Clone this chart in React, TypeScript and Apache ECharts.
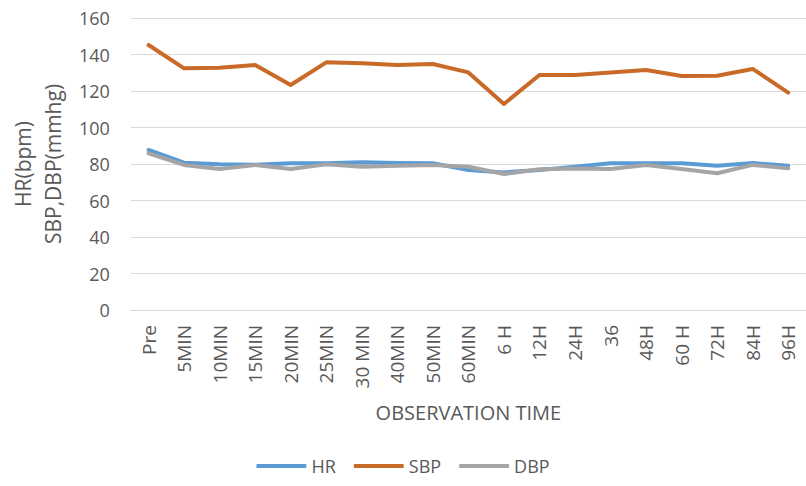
import React, { useEffect, useRef } from "react";
import * as echarts from "echarts";

const categories = ["Pre", "5MIN", "10MIN", "15MIN", "20MIN", "25MIN", "30 MIN", "40MIN", "50MIN", "60MIN", "6 H", "12H", "24H", "36", "48H", "60 H", "72H", "84H", "96H"];
const hrValues = [87.7, 80.7, 79.8, 79.6, 80.4, 80.4, 80.9, 80.5, 80.4, 76.7, 75.4, 76.7, 78.5, 80.4, 80.4, 80.4, 79.0, 80.5, 79.0];
const sbpValues = [145.2, 132.4, 132.8, 134.2, 123.3, 135.7, 135.2, 134.2, 134.8, 130.2, 112.9, 128.8, 128.8, 130.2, 131.5, 128.2, 128.4, 132.1, 119.1];
const dbpValues = [85.8, 79.5, 77.3, 79.5, 77.3, 79.8, 78.5, 79.0, 79.5, 78.5, 74.5, 77.1, 77.6, 77.3, 79.5, 77.3, 74.9, 79.5, 77.6];
const yTicks = { min: 0, max: 160, interval: 20 };

const FONT = "'Open Sans', 'Noto Sans', sans-serif";
const TXT = "#595959";

export default function App() {
  const ref = useRef<HTMLDivElement>(null);
  useEffect(() => {
    if (!ref.current) return;
    const chart = echarts.init(ref.current, undefined, { renderer: "svg" });
    const mk = (name: string, data: number[], color: string, z: number) => ({
      name,
      type: "line",
      data,
      z,
      symbol: "none",
      lineStyle: { color, width: 4, cap: "round", join: "round" },
      itemStyle: { color },
    });
    chart.setOption({
      animation: false,
      textStyle: { fontFamily: FONT },
      grid: { left: 124, top: 18, width: 687, bottom: 176, containLabel: false },
      legend: {
        bottom: 6,
        left: "center",
        itemWidth: 50,
        itemHeight: 4,
        itemGap: 18,
        icon: "roundRect",
        textStyle: { color: TXT, fontSize: 18, fontFamily: FONT },
        data: ["HR", "SBP", "DBP"],
      },
      xAxis: {
        type: "category",
        data: categories,
        boundaryGap: true,
        axisLine: { show: true, lineStyle: { color: "#d9d9d9", width: 1 } },
        axisTick: { show: false },
        axisLabel: { rotate: 90, color: TXT, fontSize: 19, margin: 15, interval: 0 },
        name: "OBSERVATION TIME",
        nameLocation: "middle",
        nameGap: 92,
        nameTextStyle: { color: TXT, fontSize: 20 },
      },
      yAxis: {
        type: "value",
        min: yTicks.min,
        max: yTicks.max,
        interval: yTicks.interval,
        axisLine: { show: false },
        axisTick: { show: false },
        splitLine: { lineStyle: { color: "#d9d9d9", width: 1 } },
        axisLabel: { color: TXT, fontSize: 18, margin: 21 },
        name: "HR(bpm)\nSBP,DBP(mmhg)",
        nameLocation: "middle",
        nameRotate: 90,
        nameGap: 62,
        nameTextStyle: { color: TXT, fontSize: 21, lineHeight: 30 },
      },
      series: [
        mk("HR", hrValues, "#5B9BD5", 3),
        mk("SBP", sbpValues, "#C96A28", 2),
        mk("DBP", dbpValues, "#A5A5A5", 4),
      ],
    });
    return () => chart.dispose();
  }, []);
  return <div ref={ref} style={{ width: 806, height: 486, position: "absolute", left: 0, top: 0 }} />;
}
